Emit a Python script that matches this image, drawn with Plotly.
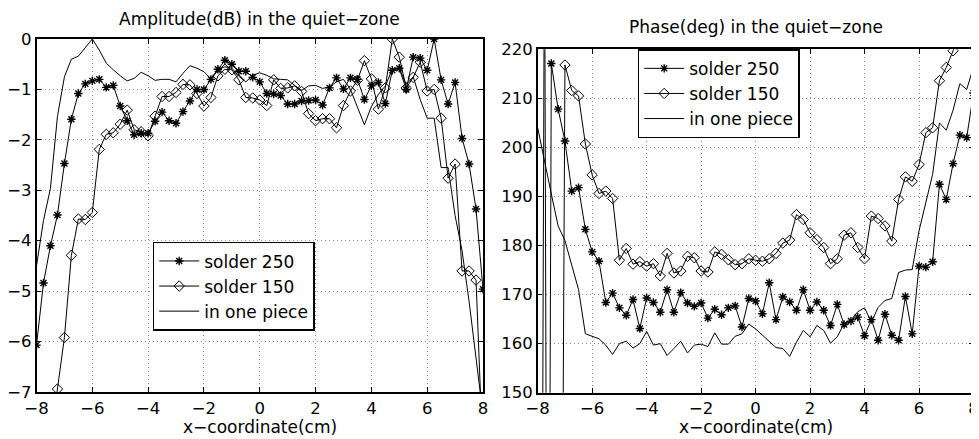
import plotly.graph_objects as go

# ---------------- data ----------------
x_cm = [-8.0, -7.75, -7.5, -7.25, -7.0, -6.75, -6.5, -6.25,
        -6.0, -5.75, -5.5, -5.25, -5.0, -4.75, -4.5, -4.25,
        -4.0, -3.75, -3.5, -3.25, -3.0, -2.75, -2.5, -2.25,
        -2.0, -1.75, -1.5, -1.25, -1.0, -0.75, -0.5, -0.25,
        0.0, 0.25, 0.5, 0.75, 1.0, 1.25, 1.5, 1.75,
        2.0, 2.25, 2.5, 2.75, 3.0, 3.25, 3.5, 3.75,
        4.0, 4.25, 4.5, 4.75, 5.0, 5.25, 5.5, 5.75,
        6.0, 6.25, 6.5, 6.75, 7.0, 7.25, 7.5, 7.75,
        8.0]

amp_solder250 = [-6.07, -4.84, -4.10, -3.49, -2.47, -1.59, -1.08, -0.89,
                 -0.83, -0.80, -0.96, -0.92, -1.33, -1.62, -1.90, -1.87,
                 -1.87, -1.63, -1.45, -1.62, -1.67, -1.44, -1.23, -1.00,
                 -1.00, -0.80, -0.60, -0.42, -0.50, -0.64, -0.64, -0.76,
                 -0.85, -1.08, -1.09, -1.12, -1.29, -1.29, -1.23, -1.22,
                 -1.21, -1.31, -0.97, -0.77, -0.99, -0.77, -0.80, -1.20,
                 -0.93, -0.86, -1.28, -0.62, -0.58, -1.00, -0.36, -0.38,
                 -0.62, 0.00, -0.81, -1.29, -0.86, -1.97, -2.48, -3.37,
                 -4.96]

amp_solder150 = [-9.6, -9.0, -8.1, -6.94, -5.92, -4.29, -3.57, -3.58,
                 -3.44, -2.19, -1.89, -1.86, -1.69, -1.41, -1.80, -1.84,
                 -1.92, -1.53, -1.14, -1.14, -1.06, -0.90, -0.91, -1.08,
                 -1.33, -1.16, -0.73, -0.60, -0.61, -0.81, -1.16, -1.17,
                 -1.21, -1.32, -0.81, -0.98, -0.97, -0.93, -1.04, -1.48,
                 -1.62, -1.58, -1.58, -1.76, -1.32, -1.03, -0.82, -0.43,
                 -0.79, -1.39, -0.97, 0.00, -0.36, -0.97, -0.76, -0.46,
                 -1.03, -1.00, -1.57, -2.76, -2.48, -4.60, -4.60, -4.78,
                 -8.3]

amp_one_piece = [-4.50, -3.60, -2.96, -1.54, -0.75, -0.40, -0.34, -0.18,
                 0.00, -0.22, -0.48, -0.61, -0.73, -0.83, -0.78, -0.66,
                 -0.73, -0.82, -0.80, -0.80, -0.85, -0.68, -0.53, -0.58,
                 -0.65, -0.79, -0.61, -0.55, -0.58, -0.74, -0.85, -0.72,
                 -0.67, -0.72, -0.79, -0.80, -0.81, -0.92, -1.02, -0.93,
                 -0.92, -0.98, -0.95, -0.85, -0.80, -1.00, -1.34, -1.70,
                 -1.34, -1.10, -0.93, -0.60, -0.58, -0.90, -0.75, -1.20,
                 -1.57, -1.57, -2.55, -2.55, -3.50, -4.20, -5.20, -6.30,
                 -7.45]

ph_solder250 = [-140.0, -150.0, 217.1, 207.8, 201.3, 191.1, 191.8, 183.3,
                178.7, 176.8, 168.4, 170.3, 167.3, 165.8, 169.0, 163.1,
                169.3, 168.4, 166.4, 171.0, 166.4, 170.4, 168.3, 167.6,
                168.3, 165.2, 167.0, 165.9, 167.3, 167.7, 163.4, 169.2,
                168.7, 166.1, 172.4, 164.9, 169.5, 168.5, 166.8, 171.0,
                166.8, 168.5, 166.8, 163.7, 168.0, 163.9, 164.6, 165.4,
                161.6, 164.9, 160.7, 166.0, 161.7, 160.7, 169.6, 162.0,
                175.8, 175.6, 176.7, 192.5, 189.4, 196.7, 202.5, 202.0,
                211.1]

ph_solder150 = [-150.0, 250.0, -200.0, -50.0, 216.8, 211.6, 210.5, 200.7,
                194.4, 190.6, 191.1, 189.6, 177.0, 179.4, 176.2, 176.7,
                175.8, 176.3, 173.8, 178.4, 174.4, 174.8, 177.8, 177.5,
                174.8, 174.6, 178.7, 178.2, 177.1, 176.1, 176.3, 177.3,
                177.0, 176.8, 177.3, 178.4, 180.5, 181.1, 186.3, 185.3,
                182.6, 181.2, 179.6, 176.3, 177.3, 182.1, 182.6, 179.6,
                177.3, 186.0, 185.5, 184.0, 180.9, 189.4, 194.0, 193.1,
                196.5, 203.0, 204.0, 213.6, 216.3, 219.7, 224.5, 229.0,
                233.0]

ph_one_piece = [204.0, 197.0, 190.5, 184.0, 181.0, 176.0, 171.0, 162.0,
                161.5, 161.0, 159.7, 157.8, 160.0, 160.5, 159.1, 160.0,
                162.5, 159.7, 160.0, 157.6, 159.0, 160.5, 158.1, 159.7,
                159.9, 159.4, 162.2, 159.9, 159.9, 161.5, 162.0, 164.0,
                163.0, 161.7, 160.3, 159.2, 159.0, 157.4, 160.3, 162.7,
                161.4, 163.7, 162.7, 160.1, 161.4, 164.1, 164.8, 166.5,
                167.3, 164.4, 167.4, 168.8, 169.2, 174.5, 175.0, 175.1,
                183.0, 189.0, 194.5, 205.0, 203.5, 207.6, 213.0, 211.8,
                216.4]

series_names = ["solder 250", "solder 150", "in one piece"]
x_ticks = [-8, -6, -4, -2, 0, 2, 4, 6, 8]
amp_ticks = [0, -1, -2, -3, -4, -5, -6, -7]
ph_ticks = [150, 160, 170, 180, 190, 200, 210, 220]

# ---------------- figure ----------------
# The page body adds an 8 px margin, so the figure is 8 px smaller than the
# window on each axis and every window-pixel position is shifted by 8 px.
OFF = 8
W, H = 979 - OFF, 439 - OFF
FONT = "DejaVu Sans, Verdana, sans-serif"

def px_x(p):
    return (p - OFF) / W

def px_y(p):
    return 1 - (p - OFF) / H

styles = [
    dict(mode="lines+markers",
         marker=dict(symbol="asterisk-open", size=7, color="black",
                     line=dict(width=1.4, color="black"))),
    dict(mode="lines+markers",
         marker=dict(symbol="diamond-open", size=8, color="black",
                     line=dict(width=1, color="black"))),
    dict(mode="lines"),
]

fig = go.Figure()
for name, ys, st in zip(series_names, [amp_solder250, amp_solder150, amp_one_piece], styles):
    fig.add_trace(go.Scatter(x=x_cm, y=ys, name=name, xaxis="x", yaxis="y",
                             line=dict(color="black", width=1), legend="legend", **st))
for name, ys, st in zip(series_names, [ph_solder250, ph_solder150, ph_one_piece], styles):
    fig.add_trace(go.Scatter(x=x_cm, y=ys, name=name, xaxis="x2", yaxis="y2",
                             line=dict(color="black", width=1), legend="legend2", **st))

axis_common = dict(showline=True, linecolor="black", linewidth=1.5, mirror="ticks",
                   ticks="inside", ticklen=5, tickwidth=1, tickcolor="black",
                   showgrid=True, gridcolor="#8a8a8a", griddash="1px,3px", gridwidth=1,
                   zeroline=False, automargin=False,
                   tickfont=dict(size=16.5, color="black", family=FONT))

legend_common = dict(xanchor="left", yanchor="middle", bgcolor="white",
                     bordercolor="black", borderwidth=1.5, itemwidth=40,
                     font=dict(size=17, color="black", family=FONT),
                     tracegroupgap=0)

fig.update_layout(
    template="none",
    width=W, height=H,
    margin=dict(l=0, r=0, t=0, b=0, autoexpand=False),
    paper_bgcolor="white", plot_bgcolor="white",
    font=dict(family=FONT, size=17, color="black"),
    xaxis=dict(domain=[px_x(36.5), px_x(483)], range=[-8, 8], tickvals=x_ticks,
               anchor="y", **axis_common),
    yaxis=dict(domain=[px_y(392), px_y(39)], range=[-7, 0], tickvals=amp_ticks,
               anchor="x", **axis_common),
    xaxis2=dict(domain=[px_x(537.7), px_x(973.5)], range=[-8, 8], tickvals=x_ticks,
                anchor="y2", **axis_common),
    yaxis2=dict(domain=[px_y(392.7), px_y(49.3)], range=[150, 220], tickvals=ph_ticks,
                anchor="x2", **axis_common),
    legend=dict(x=px_x(152.7), y=px_y(286.4), **legend_common),
    legend2=dict(x=px_x(637.7), y=px_y(93.8), **legend_common),
    showlegend=True,
)

annots = [
    ("Amplitude(dB) in the quiet\u2212zone", (36.5 + 483) / 2, 19.5),
    ("Phase(deg) in the quiet\u2212zone", (537.7 + 973.5) / 2, 27.5),
    ("x\u2212coordinate(cm)", (36.5 + 483) / 2, 427),
    ("x\u2212coordinate(cm)", (537.7 + 973.5) / 2, 427),
]
for text, cx, cy in annots:
    fig.add_annotation(text=text, x=px_x(cx), y=px_y(cy), xref="paper", yref="paper",
                       xanchor="center", yanchor="middle", showarrow=False,
                       font=dict(size=17, color="black", family=FONT))

fig.write_html("out.html")
